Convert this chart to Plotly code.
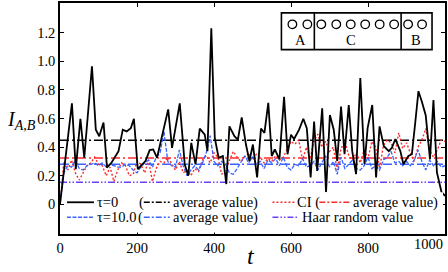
import plotly.graph_objects as go

# ---------------- data ----------------
t_black = [0, 31, 41, 53, 63, 83, 93, 102, 113, 122, 134, 152, 163, 173, 184, 192, 202, 222, 233, 242,
           252, 264, 281, 291, 311, 324, 333, 341, 352, 363, 376, 383, 393, 402, 412, 423, 432, 440, 453, 462,
           472, 483, 492, 501, 512, 522, 531, 541, 550, 558, 570, 582, 591, 600, 608, 621, 632, 641, 651, 660,
           668, 681, 691, 701, 711, 720, 730, 739, 750, 759, 769, 780, 791, 799, 811, 821, 830, 841, 854, 862,
           871, 884, 892, 905, 914, 923, 931, 940, 950, 961, 970, 979, 991, 1000]
v_black = [0.00, 0.706, 0.246, 0.598, 0.326, 0.965, 0.522, 0.476, 0.572, 0.257, 0.292, 0.372, 0.522, 0.51, 0.533, 0.598, 0.246, 0.303, 0.379, 0.384,
           0.326, 0.464, 0.664, 0.395, 0.706, 0.28, 0.20, 0.43, 0.28, 0.529, 0.487, 0.372, 1.23, 0.464, 0.326, 0.338, 0.142, 0.545, 0.476, 0.453,
           0.607, 0.418, 0.303, 0.418, 0.188, 0.529, 0.499, 0.71, 0.338, 0.384, 0.315, 0.752, 0.35, 0.487, 0.457, 0.522, 0.598, 0.533, 0.188, 0.579,
           0.234, 0.671, 0.085, 0.625, 0.522, 0.303, 0.683, 0.35, 0.694, 0.372, 0.211, 0.883, 0.28, 0.533, 0.694, 0.188, 0.545, 0.407, 0.372, 0.395,
           0.457, 0.372, 0.28, 0.338, 0.35, 0.579, 0.791, 0.717, 0.621, 0.315, 0.729, 0.223, 0.085, 0.06]

t_grid = [0, 10, 20, 30, 40, 50, 60, 70, 80, 90, 100, 110, 120, 130, 140, 150, 160, 170, 180, 190,
          200, 210, 220, 230, 240, 250, 260, 270, 280, 290, 300, 310, 320, 330, 340, 350, 360, 370, 380, 390,
          400, 410, 420, 430, 440, 450, 460, 470, 480, 490, 500, 510, 520, 530, 540, 550, 560, 570, 580, 590,
          600, 610, 620, 630, 640, 650, 660, 670, 680, 690, 700, 710, 720, 730, 740, 750, 760, 770, 780, 790,
          800, 810, 820, 830, 840, 850, 860, 870, 880, 890, 900, 910, 920, 930, 940, 950, 960, 970, 980, 990, 1000]

v_blue = [0.02, 0.22, 0.27, 0.26, 0.31, 0.25, 0.24, 0.27, 0.28, 0.29, 0.27, 0.29, 0.26, 0.28, 0.27, 0.26, 0.26, 0.28, 0.27, 0.24,
          0.22, 0.26, 0.29, 0.31, 0.26, 0.33, 0.36, 0.51, 0.30, 0.27, 0.26, 0.38, 0.27, 0.20, 0.24, 0.27, 0.24, 0.29, 0.36, 0.48,
          0.30, 0.27, 0.30, 0.28, 0.22, 0.21, 0.25, 0.30, 0.34, 0.29, 0.33, 0.28, 0.30, 0.25, 0.31, 0.29, 0.32, 0.27, 0.33, 0.26,
          0.24, 0.28, 0.27, 0.32, 0.26, 0.27, 0.30, 0.24, 0.29, 0.34, 0.26, 0.30, 0.21, 0.33, 0.25, 0.28, 0.31, 0.25, 0.24, 0.27,
          0.33, 0.25, 0.27, 0.24, 0.31, 0.33, 0.37, 0.29, 0.30, 0.27, 0.30, 0.27, 0.31, 0.38, 0.30, 0.24, 0.31, 0.27, 0.30, 0.26, 0.27]

v_red = [0.00, 0.30, 0.24, 0.31, 0.22, 0.17, 0.22, 0.27, 0.29, 0.33, 0.28, 0.27, 0.20, 0.26, 0.16, 0.24, 0.29, 0.27, 0.20, 0.21,
         0.30, 0.28, 0.22, 0.31, 0.16, 0.25, 0.30, 0.29, 0.33, 0.28, 0.24, 0.30, 0.22, 0.24, 0.20, 0.25, 0.23, 0.31, 0.34, 0.29,
         0.36, 0.33, 0.21, 0.24, 0.31, 0.37, 0.33, 0.30, 0.33, 0.36, 0.31, 0.35, 0.33, 0.29, 0.32, 0.30, 0.34, 0.31, 0.33, 0.39,
         0.44, 0.42, 0.45, 0.31, 0.40, 0.32, 0.45, 0.49, 0.40, 0.44, 0.37, 0.40, 0.24, 0.39, 0.44, 0.34, 0.31, 0.36, 0.29, 0.38,
         0.32, 0.44, 0.40, 0.25, 0.41, 0.45, 0.43, 0.36, 0.50, 0.39, 0.43, 0.36, 0.30, 0.40, 0.45, 0.53, 0.38, 0.33, 0.38, 0.45, 0.44]

avg_black = 0.448
avg_blue = 0.28
avg_red = 0.324
haar_value = 0.155

x_ticks = [0, 200, 400, 600, 800, 1000]
x_tick_text = ["0", "200", "400", "600", "800", ""]
last_x_label = "1000"
y_ticks = [0, 0.2, 0.4, 0.6, 0.8, 1.0, 1.2]
y_tick_text = ["0", "0.2", "0.4", "0.6", "0.8", "1.0", "1.2"]

# ---------------- styling ----------------
W, H = 448, 272
ML, MR, MT, MB = 60, 2, 1, 38
PW, PH = W - ML - MR, H - MT - MB
SERIF = "Liberation Serif"

BLACK = "#000000"
BLUE = "#3a62ff"
RED = "#ff2b2b"
PURPLE = "#6a40f0"


def px(xpix):
    return (xpix - ML) / PW


def py(ypix):
    return 1 - (ypix - MT) / PH


fig = go.Figure()

# average / reference lines
fig.add_trace(go.Scatter(x=[0, 1000], y=[haar_value, haar_value], mode="lines",
                         line=dict(color=PURPLE, width=1.5, dash="7px,2px,1.5px,2px,1.5px,2px"), showlegend=False))
fig.add_trace(go.Scatter(x=[0, 1000], y=[avg_red, avg_red], mode="lines",
                         line=dict(color=RED, width=1.5, dash="9px,3px,2px,3px"), showlegend=False))
fig.add_trace(go.Scatter(x=[0, 1000], y=[avg_blue, avg_blue], mode="lines",
                         line=dict(color=BLUE, width=1.5, dash="9px,3px,2px,3px"), showlegend=False))
fig.add_trace(go.Scatter(x=[0, 1000], y=[avg_black, avg_black], mode="lines",
                         line=dict(color=BLACK, width=1.5, dash="9px,3px,2px,3px"), showlegend=False))

# series
fig.add_trace(go.Scatter(x=t_grid, y=v_red, mode="lines",
                         line=dict(color=RED, width=1.4, dash="2px,2px"), showlegend=False))
fig.add_trace(go.Scatter(x=t_grid, y=v_blue, mode="lines",
                         line=dict(color=BLUE, width=1.3, dash="4px,1.5px"), showlegend=False))
fig.add_trace(go.Scatter(x=t_black, y=v_black, mode="lines",
                         line=dict(color=BLACK, width=1.8), showlegend=False))

shapes = []
annotations = []

# legend background
shapes.append(dict(type="rect", xref="paper", yref="paper", x0=px(64), x1=px(444), y0=py(232.5), y1=py(192),
                   fillcolor="white", line=dict(width=0), layer="above"))


def leg_line(x0, x1, y, color, dash, width=1.5):
    shapes.append(dict(type="line", xref="paper", yref="paper", x0=px(x0), x1=px(x1), y0=py(y), y1=py(y),
                       line=dict(color=color, width=width, dash=dash), layer="above"))


def leg_text(x, y, text, size=14.5):
    annotations.append(dict(xref="paper", yref="paper", x=px(x), y=py(y), text=text, showarrow=False,
                            xanchor="left", yanchor="middle", xshift=-1,
                            font=dict(family=SERIF, size=size, color="black")))


r1, r2 = 202, 217
leg_line(67, 94, r1, BLACK, "solid", 1.8)
leg_text(96, r1, "τ=0")
leg_text(138, r1, "(")
leg_line(144, 170, r1, BLACK, "6px,2px,2px,2px")
leg_text(172, r1, "average value)")

leg_line(67, 94, r2, BLUE, "4px,1.5px")
leg_text(96, r2, "τ=10.0")
leg_text(137, r2, "(")
leg_line(144, 170, r2, BLUE, "6px,2px,2px,2px")
leg_text(172, r2, "average value)")

leg_line(273, 296, r1, RED, "2px,2px")
leg_text(297, r1, "CI (")
leg_line(320, 351, r1, RED, "6px,2px,2px,2px")
leg_text(353, r1, "average value)")

leg_line(273, 299, r2, PURPLE, "6px,2px,1.5px,2px,1.5px,2px")
leg_text(302, r2, "Haar random value")

# inset diagram (A | C | B)
bx0, bx1, by0, by1 = 282, 433, 11, 48
shapes.append(dict(type="rect", xref="paper", yref="paper", x0=px(bx0), x1=px(bx1), y0=py(by1), y1=py(by0),
                   fillcolor="white", line=dict(color="black", width=1.6), layer="above"))
for vx in [315, 402]:
    shapes.append(dict(type="line", xref="paper", yref="paper", x0=px(vx), x1=px(vx), y0=py(by1), y1=py(by0),
                       line=dict(color="black", width=1.6), layer="above"))
circle_x = [293, 308, 322, 337, 351.5, 366, 380.5, 395, 409, 423]
rad = 4.3
for cx in circle_x:
    shapes.append(dict(type="circle", xref="paper", yref="paper", x0=px(cx - rad), x1=px(cx + rad),
                       y0=py(22.5 + rad), y1=py(22.5 - rad), line=dict(color="black", width=1.3), layer="above"))
for lx, lab in [(301, "A"), (352, "C"), (417, "B")]:
    annotations.append(dict(xref="paper", yref="paper", x=px(lx), y=py(38.5), text=lab, showarrow=False,
                            xanchor="center", yanchor="middle", font=dict(family=SERIF, size=14.5, color="black")))

# last x tick label, kept inside the figure like the reference
annotations.append(dict(xref="paper", yref="paper", x=px(446), y=py(244), text=last_x_label, showarrow=False,
                        xanchor="right", yanchor="middle", xshift=0,
                        font=dict(family=SERIF, size=14.5, color="black")))

# axis titles
annotations.append(dict(xref="paper", yref="paper", x=px(251), y=py(256), text="<i>t</i>", showarrow=False,
                        xanchor="center", yanchor="middle", font=dict(family=SERIF, size=24, color="black")))
annotations.append(dict(xref="paper", yref="paper", x=px(21), y=py(120), text="<i>I</i><sub><i>A,B</i></sub>",
                        showarrow=False, xanchor="center", yanchor="middle",
                        font=dict(family=SERIF, size=20, color="black")))

axis_common = dict(showgrid=False, zeroline=False, showline=True, linecolor="black", linewidth=1.6, mirror="ticks",
                   ticks="inside", ticklen=4, tickwidth=1, tickcolor="black",
                   tickfont=dict(family=SERIF, size=14.5, color="black"))

fig.update_layout(
    width=W, height=H,
    margin=dict(l=ML, r=MR, t=MT, b=MB),
    paper_bgcolor="white", plot_bgcolor="white",
    showlegend=False,
    font=dict(family=SERIF, color="black"),
    xaxis=dict(range=[0, 1000], tickvals=x_ticks, ticktext=x_tick_text, **axis_common),
    yaxis=dict(range=[-0.207, 1.407], tickvals=y_ticks, ticktext=y_tick_text, **axis_common),
    shapes=shapes,
    annotations=annotations,
)

fig.write_html(
    "out.html",
    config={"displayModeBar": False},
    post_script="document.body.style.margin='0';document.body.style.padding='0';"
                "document.documentElement.style.overflow='hidden';",
)
